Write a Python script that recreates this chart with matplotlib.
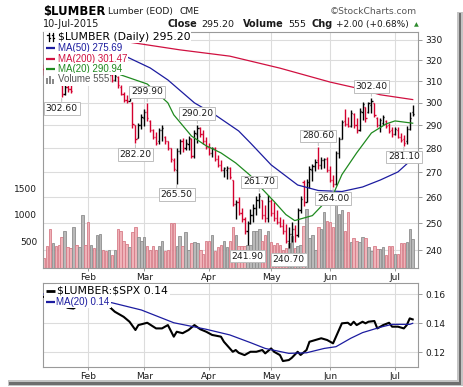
import numpy as np
import pandas as pd
import matplotlib
matplotlib.use("Agg")
import matplotlib.pyplot as plt
import matplotlib.transforms as mtransforms
from matplotlib.patches import Rectangle
from matplotlib.ticker import FixedLocator, NullLocator

W, H = 464, 387

# trading days shown on the chart
HOLIDAYS = ["2015-01-19", "2015-02-16", "2015-04-03", "2015-05-25", "2015-07-03"]
DAYS = pd.bdate_range("2015-01-09", "2015-07-10")
DAYS = DAYS[~DAYS.isin(pd.to_datetime(HOLIDAYS))]

OPEN = [316, 314, 312, 310, 313, 311, 308, 304, 307.5, 306.5,
        309, 313, 311, 315, 319, 314, 311, 314, 309, 313,
        316, 312, 310.5, 313, 310.5, 312, 307.5, 304, 301.5, 301,
        300, 290, 284.5, 290, 293, 296, 292, 288, 285, 283,
        288, 285, 283, 280, 275, 271, 279, 283, 280, 282,
        284, 277, 286, 289, 286, 283, 280.5, 278, 280, 275.5,
        273, 271, 271, 272, 267, 257.5, 258, 254, 251.5, 247,
        250, 253, 256, 259, 259, 253, 252, 258.5, 254, 252,
        250.5, 249, 247, 243.5, 246, 248, 245.5, 255, 266, 258,
        266, 271, 272.5, 275, 273, 275, 275.5, 271, 267, 265.5,
        278, 284, 292, 290.5, 289.5, 295, 290, 288, 296, 298,
        296, 299, 300, 293, 290, 291, 292, 290, 288, 286,
        288, 285, 284, 283, 288.5, 296]
HIGH = [318, 316, 313, 314, 314, 312, 308, 308.5, 310, 309,
        314, 315, 316, 320, 319.5, 315, 315, 314.5, 314, 317,
        316.5, 313, 314, 314, 313.5, 312.5, 308, 305, 303.5, 306.5,
        300.5, 290, 291, 295, 297, 299.9, 292.5, 288.5, 287, 289,
        290, 285.5, 283, 280, 276, 280, 284, 284.5, 284, 285.5,
        284.5, 288, 290.2, 289.2, 288, 285, 282.5, 280.8, 280.4, 277.3,
        275.2, 272.4, 272.5, 272.4, 267, 259, 260, 256, 252.5, 251,
        255.5, 257.5, 260.5, 261.7, 259, 257, 261, 259.5, 258, 255,
        252.5, 251.5, 249.6, 248.5, 250.5, 249.5, 256, 260.5, 267, 267.5,
        272.5, 273.5, 275.5, 280.6, 276.5, 276, 276.5, 272.5, 269, 279,
        285, 292.5, 297, 293.5, 296.8, 295.5, 293.2, 297.7, 300.5, 298.2,
        300.5, 302.4, 300, 293.7, 293.2, 294.6, 292.3, 291, 289.2, 289.2,
        289.2, 286.5, 285.7, 289.5, 296, 299]
LOW = [313, 311, 309.5, 309.5, 310, 309, 302.6, 303.5, 305, 304.5,
       308.8, 310, 310.5, 314, 313, 310, 310.5, 308, 309, 312,
       311, 309.5, 310, 309.5, 310, 307, 303.5, 300.5, 300, 301,
       289, 282.2, 284.5, 288.5, 289.5, 292, 287, 284, 281.5, 282,
       283, 282, 279.5, 274.5, 270.5, 265.5, 277.5, 278.5, 279.5, 279.5,
       276, 276, 282.5, 285, 281.9, 279.8, 277.3, 276.4, 274.8, 272.4,
       270.4, 268.1, 267.3, 267.3, 256.5, 251.5, 253, 250.5, 246, 241.9,
       249.6, 250.5, 253, 256, 251.5, 250.5, 250.5, 252.7, 251, 249.6,
       248.5, 246, 242.5, 240.7, 243, 243, 245, 254, 256.5, 258,
       263.6, 266.5, 270.5, 271.6, 271.5, 272, 270, 266, 264, 265,
       276, 283.9, 289.5, 289.2, 289.2, 288.7, 286.5, 287.5, 292.3, 291.4,
       295.5, 295.5, 293.7, 289.2, 287, 290.1, 288.7, 286.5, 284.8, 285.7,
       284.4, 282.7, 281.1, 282, 288, 294]
CLOSE = [314, 312, 310, 313, 311, 309.5, 304, 307.5, 306.5, 305.5,
         313, 311, 315, 319, 314, 311, 314, 309, 313, 316,
         312, 310.5, 313, 310.5, 312.5, 308, 304, 301.5, 301, 305.5,
         290.5, 284, 290, 293.5, 296, 293, 288, 285, 282.5, 288,
         289, 283, 280, 275.5, 271.5, 279, 283, 280, 282.5, 284.5,
         277, 286.5, 289, 286, 283, 280.5, 278, 280, 275.5, 273,
         271, 271.8, 272, 268, 257.5, 258, 254, 251.5, 247, 250,
         253, 256, 259, 260.5, 253, 252, 258.5, 254, 252, 250.5,
         249, 247, 243.5, 246, 248, 245.5, 255, 259.5, 258, 266,
         271.5, 272.5, 274.5, 273, 275, 275.5, 271, 267, 265.5, 278,
         284, 291.5, 290.5, 289.5, 295.5, 290, 288, 296.5, 299.5, 293,
         299.8, 301, 294.5, 290, 292.5, 293.5, 289.5, 287.5, 286, 288.5,
         285, 283.5, 282.3, 288.5, 293.2, 295.2]
VOLUME = [190, 420, 740, 480, 420, 430, 580, 690, 390, 370,
          770, 440, 400, 990, 440, 860, 440, 380, 630, 650,
          330, 315, 330, 240, 340, 740, 700, 500, 460, 390,
          680, 780, 580, 500, 580, 420, 330, 420, 330, 420,
          500, 315, 330, 850, 850, 420, 600, 420, 680, 330,
          470, 490, 470, 330, 260, 500, 500, 620, 315, 400,
          440, 500, 390, 500, 770, 630, 420, 420, 420, 440,
          440, 700, 700, 740, 500, 630, 690, 490, 440, 470,
          440, 330, 380, 470, 600, 370, 420, 440, 800, 1113,
          560, 630, 330, 780, 740, 1062, 892, 865, 780, 1245,
          1019, 1094, 704, 1057, 490, 560, 500, 490, 580, 560,
          390, 315, 410, 350, 350, 390, 240, 410, 420, 260,
          260, 470, 470, 490, 736, 555]

# moving averages (day index, value)
MA20_DAYS = [26, 35, 42, 44, 50, 55, 60, 65, 70, 74, 78, 82, 85, 91, 95, 98,
             101, 106, 111, 116, 119, 122, 125]
MA20_VALS = [313.0, 308.7, 300.0, 294.6, 285.3, 281.1, 278.1, 273.9, 268.7,
             263.3, 258.4, 253.3, 251.0, 252.9, 257.7, 261.0, 269.1, 278.1,
             286.6, 290.6, 291.9, 291.4, 290.9]
MA50_DAYS = [28, 36, 42, 51, 58, 66, 70, 77, 86, 93, 101, 108, 114, 120, 125]
MA50_VALS = [321.7, 316.3, 310.6, 300.0, 294.6, 287.5, 282.3, 273.1, 264.9,
             262.7, 262.3, 264.1, 266.9, 270.2, 275.7]
MA200_DAYS = [28, 46, 63, 80, 97, 106, 114, 125]
MA200_VALS = [329.1, 325.1, 322.0, 316.2, 309.6, 306.8, 303.7, 301.5]

# $LUMBER:$SPX ratio panel
RATIO_DAYS = [0, 4, 8, 10, 12, 16, 20, 22, 24, 27, 29, 31, 32, 35, 38, 40, 42,
              44, 45, 47, 49, 51, 53, 55, 57, 60, 61, 64, 65, 66, 68, 70, 72,
              74, 75, 77, 78, 80, 81, 83, 84, 86, 87, 89, 90, 92, 94, 96, 98,
              99, 101, 103, 104, 105, 106, 108, 109, 110, 112, 113, 115, 117,
              118, 120, 122, 123, 124, 125]
RATIO_VALS = [0.158, 0.156, 0.1505, 0.150, 0.153, 0.155, 0.154, 0.1515, 0.1478,
              0.1443, 0.1409, 0.1352, 0.1386, 0.1402, 0.1363, 0.1363, 0.1386,
              0.1306, 0.1340, 0.1330, 0.1352, 0.1386, 0.1357, 0.1340, 0.1318,
              0.1306, 0.1271, 0.1202, 0.1214, 0.1195, 0.1179, 0.1202, 0.1202,
              0.1214, 0.1191, 0.1225, 0.1202, 0.1179, 0.1138, 0.1145, 0.1160,
              0.1202, 0.1180, 0.1214, 0.1271, 0.1283, 0.1295, 0.1283, 0.1260,
              0.1306, 0.1398, 0.1402, 0.1386, 0.1409, 0.1386, 0.1409, 0.1398,
              0.1409, 0.1414, 0.1363, 0.1386, 0.1402, 0.1375, 0.1375, 0.1363,
              0.1386, 0.1432, 0.1425]
RMA_DAYS = [0, 10, 23, 33, 44, 55, 63, 70, 75, 83, 89, 95, 99, 104, 108, 114,
            118, 124, 125]
RMA_VALS = [0.160, 0.157, 0.1540, 0.1490, 0.1402, 0.1357, 0.1318, 0.1265,
            0.1225, 0.1191, 0.1195, 0.1225, 0.1237, 0.1295, 0.1334, 0.1371,
            0.1391, 0.1391, 0.1398]

# price labels: (day index, which end of the bar)
PRICE_LABELS = [(6, "low"), (35, "high"), (31, "low"), (52, "high"), (45, "low"),
                (73, "high"), (69, "low"), (83, "low"), (93, "high"), (98, "low"),
                (111, "high"), (122, "low")]

PRICE_TICKS = [240, 250, 260, 270, 280, 290, 300, 310, 320, 330]
VOL_TICKS = [500, 1000, 1500]
RATIO_TICKS = [0.12, 0.14, 0.16]

RED = "#d4002e"
BLUE = "#1c1ca0"
MA200_RED = "#d01040"
GREEN = "#1f8a1f"
GRID = "#dcdcdc"
SPINE = "#9a9a9a"
TXT = "#1a1a1a"


def px(X, Y):
    return X / W, 1 - Y / H


def main_xy(X, Y):
    return (X - 43) / 375, (268 - Y) / 236


def low_xy(X, Y):
    return (X - 43) / 376, (367 - Y) / 84


def main():
    n = len(CLOSE)
    assert len(DAYS) == n == len(OPEN) == len(HIGH) == len(LOW) == len(VOLUME)
    x = np.arange(n)
    prev = np.r_[OPEN[0], CLOSE[:-1]]
    up = np.array(CLOSE) >= prev
    bar_col = np.where(up, "black", RED)

    months = pd.Series(DAYS.month)
    month_pos = [int(i) for i in np.where(months.diff().fillna(0) != 0)[0]]
    month_lab = [DAYS[i].strftime("%b") for i in month_pos]

    fig = plt.figure(figsize=(W / 100, H / 100), dpi=100)
    fig.patch.set_facecolor("white")

    rect_main = [43 / W, 1 - 268 / H, 375 / W, 236 / H]
    ax_vol = fig.add_axes(rect_main)
    ax = fig.add_axes(rect_main)
    ax.patch.set_visible(False)

    xlim = (-0.34, 126.8)
    ylim = (233.6, 334.0)

    # volume layer
    vfill = np.where(up, "#b9b9b9", "#efb3b9")
    vedge = np.where(up, "#8e8e8e", "#d77c88")
    ax_vol.bar(x, VOLUME, width=0.82, color=vfill, edgecolor=vedge, linewidth=0.6, zorder=3)
    ax_vol.set_xlim(*xlim)
    ax_vol.set_ylim(0, 4450)
    for m in month_pos:
        ax_vol.axvline(m, color=GRID, lw=0.8, zorder=1)
    blend = mtransforms.blended_transform_factory(ax_vol.transAxes, ax.transData)
    for p in PRICE_TICKS:
        ax_vol.plot([0, 1], [p, p], transform=blend, color=GRID, lw=0.8, zorder=1)
    for s in ax_vol.spines.values():
        s.set_visible(False)
    ax_vol.set_xticks([])
    ax_vol.yaxis.set_major_locator(FixedLocator(VOL_TICKS))
    ax_vol.set_yticklabels([str(v) for v in VOL_TICKS])
    ax_vol.tick_params(axis="y", length=0, pad=4, labelsize=6.5, labelcolor=TXT)

    # price bars
    ax.vlines(x, LOW, HIGH, colors=bar_col, lw=1.0, zorder=4)
    ax.hlines(OPEN, x - 0.4, x, colors=bar_col, lw=1.0, zorder=4)
    ax.hlines(CLOSE, x, x + 0.4, colors=bar_col, lw=1.0, zorder=4)
    ax.plot(MA200_DAYS, MA200_VALS, color=MA200_RED, lw=0.9, zorder=5)
    ax.plot(MA50_DAYS, MA50_VALS, color=BLUE, lw=0.9, zorder=5)
    ax.plot(MA20_DAYS, MA20_VALS, color=GREEN, lw=0.9, zorder=5)

    ax.set_yscale("log")
    ax.set_xlim(*xlim)
    ax.set_ylim(*ylim)
    ax.yaxis.set_major_locator(FixedLocator(PRICE_TICKS))
    ax.yaxis.set_minor_locator(NullLocator())
    ax.set_yticklabels([str(p) for p in PRICE_TICKS])
    ax.yaxis.tick_right()
    ax.tick_params(axis="y", which="major", direction="out", length=3, width=0.7,
                   color=SPINE, pad=2, labelsize=6.5, labelcolor=TXT)
    ax.set_xticks(month_pos)
    ax.set_xticklabels(month_lab)
    ax.tick_params(axis="x", direction="out", length=2, width=0.7, color=SPINE,
                   pad=1.5, labelsize=6.5, labelcolor=TXT)
    for s in ax.spines.values():
        s.set_color(SPINE)
        s.set_linewidth(0.8)

    # high / low labels
    for i, kind in PRICE_LABELS:
        val = HIGH[i] if kind == "high" else LOW[i]
        dy = 8 if kind == "high" else -8
        ax.annotate(f"{val:.2f}", xy=(i, val), xytext=(0, dy), textcoords="offset points",
                    ha="center", va="center", fontsize=6.6, color=TXT, zorder=8,
                    bbox=dict(boxstyle="square,pad=0.2", fc="white", ec="#bdbdbd", lw=0.7),
                    arrowprops=dict(arrowstyle="-", color="#bdbdbd", lw=0.7,
                                    shrinkA=0, shrinkB=1))

    # legend of the price panel
    ax.add_patch(Rectangle(main_xy(44, 84), 14 / 375, 52 / 236, transform=ax.transAxes,
                           fc="white", ec="none", zorder=9))
    rows = [("$LUMBER (Daily) 295.20", 36.5, "black", "DejaVu Sans", 7.8),
            ("MA(50) 275.69", 48, BLUE, "Liberation Sans", 7),
            ("MA(200) 301.47", 58.5, MA200_RED, "Liberation Sans", 7),
            ("MA(20) 290.94", 69, GREEN, "Liberation Sans", 7),
            ("Volume 555", 79.5, "#555555", "Liberation Sans", 7)]
    for txt, Y, col, fam, size in rows:
        ax.text(*main_xy(57.5, Y), txt, transform=ax.transAxes, ha="left", va="center",
                color=col, family=fam, fontsize=size, zorder=10,
                bbox=dict(boxstyle="square,pad=0.12", fc="white", ec="none"))
    for Y, col in [(48, BLUE), (58.5, MA200_RED), (69, GREEN)]:
        ax.plot([main_xy(46, Y)[0], main_xy(55, Y)[0]], [main_xy(46, Y)[1]] * 2,
                transform=ax.transAxes, color=col, lw=1.6, zorder=11, solid_capstyle="butt")
    # little bar glyph for the price row
    for gx in (48.5, 53.0):
        ax.plot([main_xy(gx, 33)[0]] * 2, [main_xy(gx, 33)[1], main_xy(gx, 40.5)[1]],
                transform=ax.transAxes, color="black", lw=0.9, zorder=11)
        ax.plot([main_xy(gx - 1.3, 35)[0], main_xy(gx, 35)[0]], [main_xy(gx, 35)[1]] * 2,
                transform=ax.transAxes, color="black", lw=0.9, zorder=11)
        ax.plot([main_xy(gx, 38)[0], main_xy(gx + 1.3, 38)[0]], [main_xy(gx, 38)[1]] * 2,
                transform=ax.transAxes, color="black", lw=0.9, zorder=11)
    # volume glyph
    for gx, top in [(46.5, 78), (49.5, 76), (52.5, 79)]:
        ax.add_patch(Rectangle(main_xy(gx - 1, 83.5), 2 / 375, (83.5 - top) / 236,
                               transform=ax.transAxes, fc="#8a8a8a", ec="none", zorder=11))

    # ratio panel
    ax2 = fig.add_axes([43 / W, 1 - 367 / H, 375 / W, 84 / H])
    ax2.plot(RATIO_DAYS, RATIO_VALS, color="black", lw=1.5, zorder=4, solid_joinstyle="round")
    ax2.plot(RMA_DAYS, RMA_VALS, color=BLUE, lw=0.9, zorder=5)
    ax2.set_xlim(*xlim)
    ax2.set_ylim(0.1097, 0.1676)
    ax2.set_xticks(month_pos)
    ax2.set_xticklabels(month_lab)
    ax2.yaxis.set_major_locator(FixedLocator(RATIO_TICKS))
    ax2.set_yticklabels([f"{v:.2f}" for v in RATIO_TICKS])
    ax2.yaxis.tick_right()
    ax2.tick_params(axis="y", direction="out", length=3, width=0.7, color=SPINE, pad=2,
                    labelsize=6.5, labelcolor=TXT)
    ax2.tick_params(axis="x", direction="out", length=2, width=0.7, color=SPINE, pad=1.5,
                    labelsize=6.5, labelcolor=TXT)
    ax2.grid(True, color=GRID, lw=0.8)
    ax2.set_axisbelow(True)
    for s in ax2.spines.values():
        s.set_color(SPINE)
        s.set_linewidth(0.8)
    ax2.add_patch(Rectangle(low_xy(44, 307), 13 / 376, 22 / 84, transform=ax2.transAxes,
                            fc="white", ec="none", zorder=9))
    ax2.text(*low_xy(57.5, 290.5), "\\$LUMBER:\\$SPX 0.14", transform=ax2.transAxes,
             ha="left", va="center", fontsize=7.8, color="black", zorder=10,
             bbox=dict(boxstyle="square,pad=0.12", fc="white", ec="none"))
    ax2.text(*low_xy(56.5, 302), "MA(20) 0.14", transform=ax2.transAxes,
             ha="left", va="center", fontsize=7, family="Liberation Sans", color=BLUE,
             zorder=10, bbox=dict(boxstyle="square,pad=0.12", fc="white", ec="none"))
    for Y, col, lw in [(290.5, "black", 2.0), (302, BLUE, 1.6)]:
        ax2.plot([low_xy(46, Y)[0], low_xy(55, Y)[0]], [low_xy(46, Y)[1]] * 2,
                 transform=ax2.transAxes, color=col, lw=lw, zorder=11, solid_capstyle="butt")

    # header
    fig.text(*px(43, 15.5), "$LUMBER", fontsize=8.4, fontweight="bold", va="baseline",
             family="DejaVu Sans", color="black")
    fig.text(*px(108, 14), "Lumber (EOD)", fontsize=6.6, va="baseline", color=TXT)
    fig.text(*px(180, 14), "CME", fontsize=6.6, va="baseline", color=TXT)
    fig.text(*px(330, 14), "\u00a9StockCharts.com", fontsize=6.6, va="baseline", color="#555555")
    fig.text(*px(43, 27), "10-Jul-2015", fontsize=7, va="baseline", color=TXT)
    for X, s, bold, size in [(168, "Close", True, 7), (201, "295.20", False, 6.8),
                             (243, "Volume", True, 7), (288, "555", False, 6.8),
                             (311.5, "Chg", True, 7), (336, "+2.00 (+0.68%)", False, 6.4)]:
        fig.text(*px(X, 27), s, fontsize=size, va="baseline", color=TXT,
                 fontweight="bold" if bold else "normal")
    fig.text(*px(413.5, 26.5), "\u25b2", fontsize=4.5, va="baseline", color="#2e8b2e")

    # drop shadow of the chart card
    fig.patches.append(Rectangle(px(457, 386), 6 / W, 374 / H, transform=fig.transFigure,
                                 fc="#c4c4c4", ec="none", zorder=0))
    fig.patches.append(Rectangle(px(459, 385), 2.5 / W, 372 / H, transform=fig.transFigure,
                                 fc="#6e6e6e", ec="none", zorder=1))
    fig.patches.append(Rectangle(px(8, 386), 455 / W, 6 / H, transform=fig.transFigure,
                                 fc="#c4c4c4", ec="none", zorder=0))
    fig.patches.append(Rectangle(px(9, 384.5), 452 / W, 2.5 / H, transform=fig.transFigure,
                                 fc="#6e6e6e", ec="none", zorder=1))

    fig.savefig("out.png", dpi=100, facecolor="white")
    plt.close(fig)


if __name__ == "__main__":
    main()
